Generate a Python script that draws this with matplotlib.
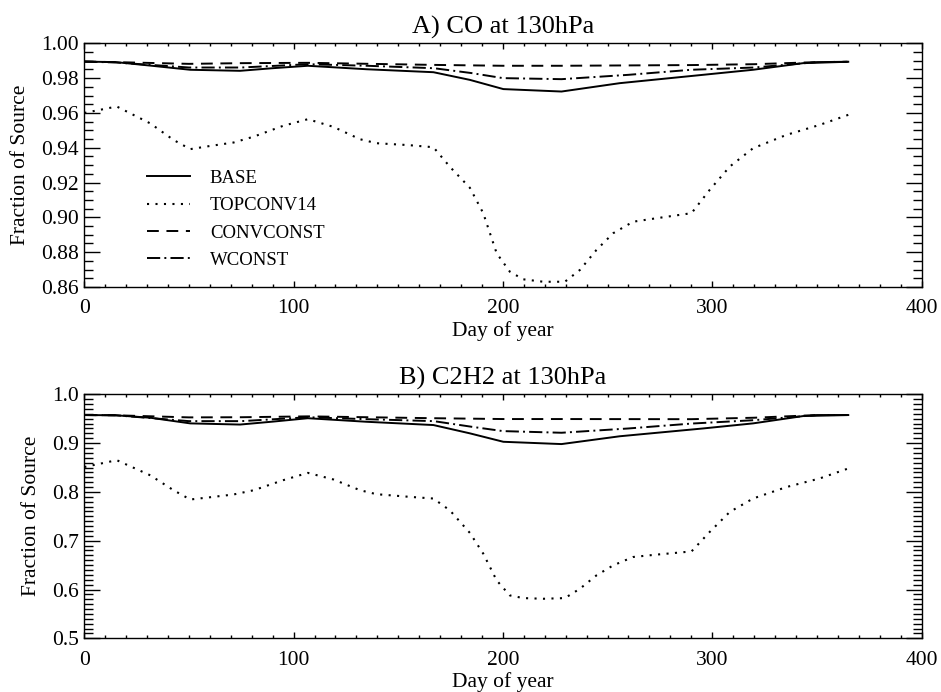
import matplotlib
matplotlib.use("Agg")
import matplotlib.pyplot as plt
from matplotlib.ticker import MultipleLocator, FormatStrFormatter

plt.rcParams['font.family'] = ['Liberation Serif', 'DejaVu Serif']
plt.rcParams['lines.scale_dashes'] = False

# ---------------- data ----------------
topconv_days = [0, 15.5, 31.5, 42.6, 50.6, 60, 71.3, 81, 95, 106.8, 119, 131.7, 139.6, 155,
                166.8, 174.7, 184.2, 190.6, 197, 203.3, 209.7, 219.3, 229.6, 236.8, 244.7,
                252.7, 262.2, 273.4, 290.1, 298.8, 308.4, 319.5, 335.5, 351.3, 365]
co_topconv = [0.960, 0.9637, 0.954, 0.9445, 0.9392, 0.941, 0.943, 0.9464, 0.9526, 0.9564,
              0.952, 0.9449, 0.9426, 0.9415, 0.9403, 0.929, 0.917, 0.9024, 0.8794, 0.8688,
              0.8644, 0.863, 0.863, 0.8698, 0.8813, 0.8909, 0.8975, 0.8995, 0.9024, 0.9158,
              0.9292, 0.9397, 0.9474, 0.9531, 0.9589]
c2h2_topconv = [0.851, 0.865, 0.834, 0.8035, 0.7844, 0.789, 0.7947, 0.8035, 0.824, 0.839,
                0.8255, 0.8035, 0.7953, 0.790, 0.7864, 0.762, 0.716, 0.6735, 0.6187, 0.5879,
                0.5824, 0.581, 0.5824, 0.6016, 0.629, 0.6495, 0.6666, 0.6715, 0.678, 0.718,
                0.759, 0.7864, 0.810, 0.8275, 0.848]

base_days = [0, 15, 31.5, 50.6, 74.4, 90, 106.8, 134.9, 166.8, 184.2, 200.2, 228, 255.8,
             295.6, 319.5, 343.4, 365]
co_base = [0.9895, 0.9892, 0.9872, 0.9848, 0.9842, 0.9857, 0.9871, 0.9851, 0.9834, 0.979,
           0.9737, 0.9723, 0.9771, 0.9819, 0.9848, 0.9886, 0.9894]
c2h2_base = [0.9575, 0.957, 0.952, 0.9404, 0.938, 0.944, 0.951, 0.9437, 0.937, 0.92, 0.9027,
             0.898, 0.914, 0.930, 0.9404, 0.9554, 0.9575]

convconst_days = [0, 15, 50, 75, 107, 167, 200, 228, 290, 320, 350, 365]
co_convconst = [0.9895, 0.9892, 0.9882, 0.9886, 0.9888, 0.9876, 0.9871, 0.9871, 0.9875,
                0.988, 0.9892, 0.9894]
c2h2_convconst = [0.9575, 0.957, 0.9527, 0.953, 0.9548, 0.951, 0.9493, 0.9493, 0.949,
                  0.952, 0.9575, 0.9575]

wconst_days = [0, 15, 50, 75, 107, 135, 167, 185, 200, 228, 260, 290, 320, 350, 365]
co_wconst = [0.9895, 0.989, 0.9861, 0.9861, 0.988, 0.9871, 0.9857, 0.9829, 0.980, 0.9794,
             0.9819, 0.9848, 0.9861, 0.9892, 0.9894]
c2h2_wconst = [0.9575, 0.957, 0.945, 0.945, 0.953, 0.949, 0.945, 0.9335, 0.9246, 0.9212,
               0.930, 0.940, 0.947, 0.9575, 0.9575]

labels = ['BASE', 'TOPCONV14', 'CONVCONST', 'WCONST']
titles = ['A) CO at 130hPa', 'B) C2H2 at 130hPa']

# ---------------- figure ----------------
fig = plt.figure(figsize=(9.41, 6.92), dpi=100)
ax1 = fig.add_axes([0.0896, 0.5853, 0.8897, 0.3521])
ax2 = fig.add_axes([0.0896, 0.0776, 0.8897, 0.3526])

styles = {
    'BASE': dict(linestyle='-', lw=1.4),
    'TOPCONV14': dict(linestyle=(0, (1.5, 4.6)), lw=1.5),
    'CONVCONST': dict(linestyle=(0, (8.5, 5.5)), lw=1.4),
    'WCONST': dict(linestyle=(0, (9.5, 3.0, 1.4, 3.0)), lw=1.4),
}

panels = [
    (ax1, [co_base, co_topconv, co_convconst, co_wconst], (0.86, 1.00), 0.02, 0.005, '%.2f'),
    (ax2, [c2h2_base, c2h2_topconv, c2h2_convconst, c2h2_wconst], (0.5, 1.0), 0.1, 0.01, '%.1f'),
]
days_list = [base_days, topconv_days, convconst_days, wconst_days]

for i, (ax, series, ylim, ymaj, ymin, fmt) in enumerate(panels):
    for lab, d, v in zip(labels, days_list, series):
        ax.plot(d, v, color='black', label=lab, **styles[lab])
    ax.set_xlim(0, 400)
    ax.set_ylim(*ylim)
    ax.xaxis.set_major_locator(MultipleLocator(100))
    ax.xaxis.set_minor_locator(MultipleLocator(10))
    ax.yaxis.set_major_locator(MultipleLocator(ymaj))
    ax.yaxis.set_minor_locator(MultipleLocator(ymin))
    ax.yaxis.set_major_formatter(FormatStrFormatter(fmt))
    ax.tick_params(axis='both', which='both', direction='in', top=True, right=True,
                   labelsize=15.5, width=1.0, color='black')
    ax.tick_params(axis='y', which='major', length=11.5, pad=4)
    ax.tick_params(axis='y', which='minor', length=6.5)
    ax.tick_params(axis='x', which='major', length=4.5, pad=9)
    ax.tick_params(axis='x', which='minor', length=2.2)
    for sp in ax.spines.values():
        sp.set_linewidth(1.0)
    ax.set_title(titles[i], fontsize=19, pad=7)
    ax.set_xlabel('Day of year', fontsize=15.5, labelpad=2)
    ax.set_ylabel('Fraction of Source', fontsize=15.5, labelpad=8)

ax1.legend(loc='upper left', bbox_to_anchor=(0.0745, 0.482), frameon=False, fontsize=13.5,
           handlelength=2.3, handletextpad=1.07, labelspacing=0.55, borderpad=0,
           borderaxespad=0)

fig.savefig('out.png', dpi=100)
